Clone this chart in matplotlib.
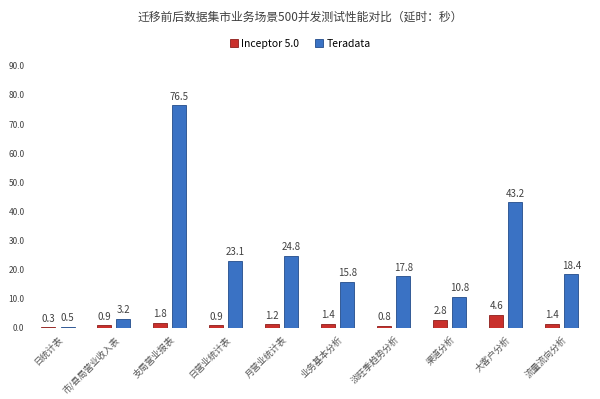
"""Inceptor 5.0 vs Teradata latency comparison, 500 concurrent queries."""

import matplotlib.pyplot as plt
import numpy as np

plt.rcParams['font.family'] = ['Noto Sans CJK SC', 'DejaVu Sans']

categories = ['日统计表', '市/县局营业收入表', '支局营业报表', '日营业统计表', '月营业统计表',
              '业务基本分析', '淡旺季趋势分析', '渠道分析', '大客户分析', '流量流向分析']
inceptor = [0.3, 0.9, 1.8, 0.9, 1.2, 1.4, 0.8, 2.8, 4.6, 1.4]
teradata = [0.5, 3.2, 76.5, 23.1, 24.8, 15.8, 17.8, 10.8, 43.2, 18.4]
y_ticks = [0, 10, 20, 30, 40, 50, 60, 70, 80, 90]

fig = plt.figure(figsize=(6, 3.99), dpi=100)
ax = fig.add_axes([0.05, 0.178, 0.933, 0.657])

x = np.arange(len(categories))
w = 0.25
off = 0.17
b1 = ax.bar(x - off, inceptor, w, color='#C9302C', edgecolor='#8E1E1B', linewidth=0.6,
            label='Inceptor 5.0')
b2 = ax.bar(x + off, teradata, w, color='#3A72C4', edgecolor='#234C8A', linewidth=0.6,
            label='Teradata')

for bars, vals in ((b1, inceptor), (b2, teradata)):
    for bar, v in zip(bars, vals):
        ax.text(bar.get_x() + bar.get_width() / 2, v + 1.2, '%.1f' % v,
                ha='center', va='bottom', fontsize=7, color='#404040')

ax.set_xlim(-0.5, len(categories) - 0.5)
ax.set_ylim(0, 90)
ax.set_yticks(y_ticks)
ax.set_yticklabels(['%.1f' % t for t in y_ticks], fontsize=6, color='#404040')
ax.set_xticks(x)
ax.set_xticklabels(categories, rotation=45, ha='right', rotation_mode='anchor',
                   fontsize=6.5, color='#555555')
ax.tick_params(axis='y', length=0, pad=4)
ax.tick_params(axis='x', length=0, pad=5)
for s in ax.spines.values():
    s.set_visible(False)

fig.text(0.5, 0.957, '迁移前后数据集市业务场景500并发测试性能对比（延时：秒）',
         ha='center', va='center', fontsize=8.5, color='#404040')
fig.legend(loc='center', bbox_to_anchor=(0.5, 0.89), ncol=2, frameon=False,
           fontsize=7.5, handlelength=0.8, handleheight=0.8, handletextpad=0.3,
           columnspacing=1.5)

fig.savefig('out.png')
